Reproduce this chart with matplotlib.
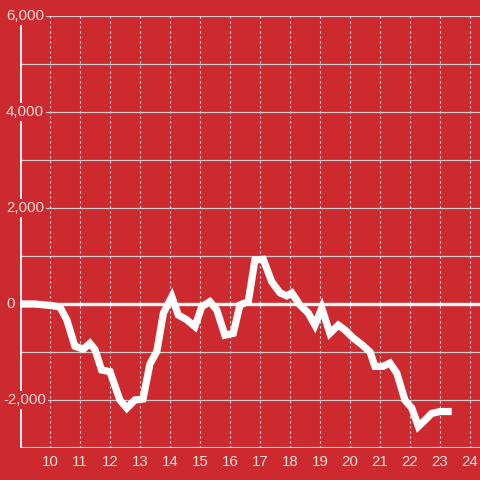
#!/usr/bin/env python3

from matplotlib import pyplot as plt
import matplotlib.transforms as mtransforms

# hour of day vs value
hours = [9.0, 9.5, 10.0, 10.33, 10.56, 10.83, 11.11, 11.33, 11.5, 11.72,
         12.0, 12.33, 12.56, 12.83, 13.1, 13.33, 13.56, 13.78, 14.06, 14.28,
         14.56, 14.83, 15.06, 15.33, 15.56, 15.83, 16.11, 16.33, 16.61, 16.83,
         17.11, 17.39, 17.67, 17.89, 18.06, 18.33, 18.61, 18.83, 19.06, 19.33,
         19.61, 19.83, 20.11, 20.4, 20.67, 20.83, 21.1, 21.33, 21.56, 21.83,
         22.06, 22.28, 22.5, 22.72, 23.0, 23.39]
values = [0, 0, -30, -60, -330, -880, -940, -820, -950, -1375,
          -1410, -2000, -2170, -2000, -1980, -1250, -990, -190, 150, -230,
          -330, -470, -55, 50, -125, -650, -610, -20, 50, 920,
          930, 465, 230, 170, 230, -20, -190, -440, -85, -610,
          -440, -540, -710, -850, -1000, -1300, -1300, -1230, -1440, -2000,
          -2170, -2550, -2420, -2280, -2240, -2240]

x_ticks = list(range(10, 25))
y_grid = list(range(-3000, 7000, 1000))
y_labeled = [6000, 4000, 2000, 0, -2000]

BG = '#cc2a2f'
LABEL = '#f3dede'


def main():
    plt.rcParams['font.family'] = ['Liberation Sans', 'DejaVu Sans']

    fig = plt.figure(figsize=(4.8, 4.8), dpi=100, facecolor=BG)
    ax = fig.add_axes([20 / 480, 32 / 480, 460 / 480, 432 / 480])
    ax.set_facecolor(BG)

    ax.set_xlim(9.0, 24.333)
    ax.set_ylim(-3000, 6000)

    # grid
    for v in y_grid:
        if v == 0:
            ax.axhline(v, color='#f7f7f7', lw=2.4, zorder=3)
        elif v == -3000:
            ax.axhline(v, color='#d6d6d6', lw=1.5, zorder=2)
        else:
            ax.axhline(v, color='#d0cccc', lw=0.9, zorder=2)
    for h in x_ticks:
        ax.axvline(h, color='#e8e0e0', lw=0.8, linestyle=(0, (2, 2.5)), zorder=1)

    for s in ax.spines.values():
        s.set_visible(False)
    ax.axvline(9.0, color='#f2f2f2', lw=2.8, zorder=4)

    # data line
    ax.plot(hours, values, color='white', lw=5.2, solid_joinstyle='miter',
            solid_capstyle='butt', zorder=5)

    # tick labels
    ax.set_xticks([])
    ax.set_yticks([])
    for h in x_ticks:
        ax.annotate(str(h), xy=(h, -3000), xytext=(0, -5), textcoords='offset points',
                    ha='center', va='top', fontsize=10.8, color=LABEL,
                    annotation_clip=False)

    trans = mtransforms.blended_transform_factory(fig.transFigure, ax.transData)
    for v in y_labeled:
        txt = f'{v:,}'
        x0 = 3 / 480 if v < 0 else 6 / 480
        ax.text(x0, v, txt, transform=trans, ha='left', va='center',
                fontsize=10.8, color=LABEL, zorder=6, clip_on=False,
                bbox=dict(facecolor=BG, edgecolor='none', pad=1.5))

    fig.savefig('out.png', dpi=100, facecolor=BG)


if __name__ == '__main__':
    main()
